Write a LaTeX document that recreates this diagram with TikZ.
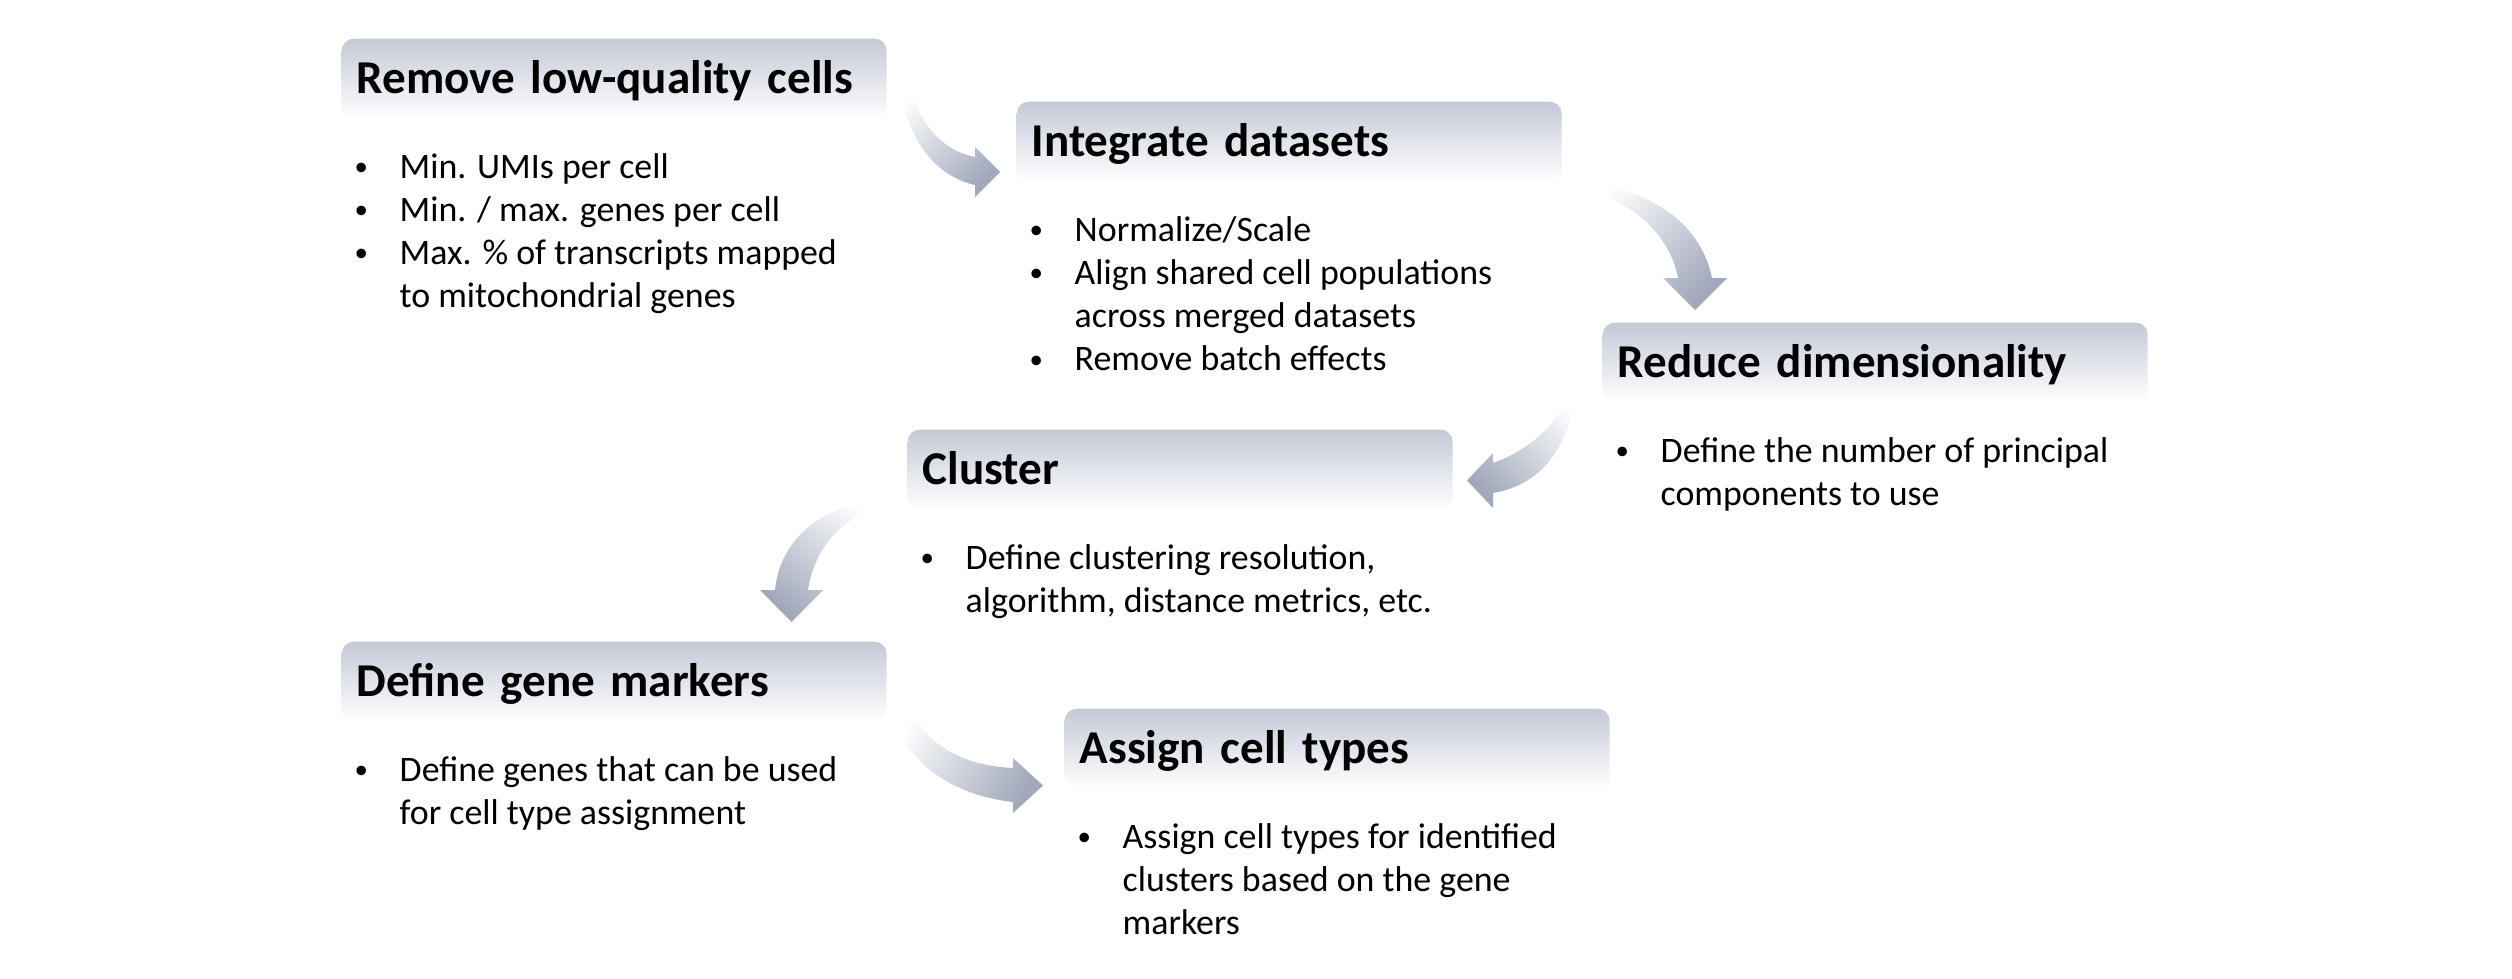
\documentclass[tikz,border=0pt]{standalone}
\usepackage{fontspec}
\setmainfont{Carlito}
\usepackage{tikz}
\usetikzlibrary{positioning}

\definecolor{hdrblue}{RGB}{196,201,214}
\definecolor{arrowgray}{RGB}{160,168,186}

% bullet list inside a step
\newcommand{\stepbullet}{\raisebox{0.15ex}{\scalebox{0.75}{\textbullet}}}
\newcommand{\steplist}[1]{\begin{tabular}[t]{@{}p{0.45cm}@{}l@{}}#1\end{tabular}}

\tikzset{
  hdr/.style={anchor=north west, rounded corners=0.12cm, top color=hdrblue, bottom color=white,
    minimum width=5.45cm, minimum height=0.80cm, inner xsep=0.15cm, inner ysep=0pt,
    text width=5.15cm, align=left, text height=0.35cm, text depth=0.05cm,
    font=\fontsize{13.4}{16}\selectfont\bfseries},
  body/.style={inner sep=0pt, font=\fontsize{10.2}{12.3}\selectfont},
  flowarrow/.style={top color=arrowgray, bottom color=white}
}

\begin{document}
\begin{tikzpicture}[line join=round]

\useasboundingbox (0,0) rectangle (25.12,-9.78);
\fill[white] (0,0) rectangle (25.12,-9.78);

% Step headers
\node[hdr] (qc) at (3.41,-0.38) {Remove low-quality cells};
\node[hdr] (integ) at (10.16,-1.01) {Integrate datasets};
\node[hdr] (dimred) at (16.02,-3.22) {Reduce dimensionality};
\node[hdr] (clust) at (9.07,-4.29) {Cluster};
\node[hdr] (markers) at (3.41,-6.41) {Define gene markers};
\node[hdr] (celltype) at (10.64,-7.08) {Assign cell types};

% Step details
\node[body, below right=1.40cm and 0.13cm of qc.north west, anchor=base west] (qcList) {\steplist{
  \stepbullet & Min. UMIs per cell\\
  \stepbullet & Min. / max. genes per cell\\
  \stepbullet & Max. \% of transcripts mapped\\
              & to mitochondrial genes\\}};
\node[body, below right=1.40cm and 0.13cm of integ.north west, anchor=base west] (integList) {\steplist{
  \stepbullet & Normalize/Scale\\
  \stepbullet & Align shared cell populations\\
              & across merged datasets\\
  \stepbullet & Remove batch effects\\}};
\node[body, below right=1.40cm and 0.13cm of dimred.north west, anchor=base west] (dimredList) {\steplist{
  \stepbullet & Define the number of principal\\
              & components to use\\}};
\node[body, below right=1.40cm and 0.13cm of clust.north west, anchor=base west] (clustList) {\steplist{
  \stepbullet & Define clustering resolution,\\
              & algorithm, distance metrics, etc.\\}};
\node[body, below right=1.40cm and 0.13cm of markers.north west, anchor=base west] (markersList) {\steplist{
  \stepbullet & Define genes that can be used\\
              & for cell type assignment\\}};
\node[body, below right=1.40cm and 0.13cm of celltype.north west, anchor=base west] (celltypeList) {\steplist{
  \stepbullet & Assign cell types for identified\\
              & clusters based on the gene\\
              & markers\\}};

% Curved arrows between steps
\shade[flowarrow, shading angle=-135] (9.06,-0.73) .. controls (9.15,-1.2) and (9.4,-1.5) .. (9.75,-1.57)
  -- (9.75,-1.47) -- (10.00,-1.72) -- (9.75,-1.97) -- (9.75,-1.85)
  .. controls (9.3,-1.75) and (9.02,-1.3) .. (9.00,-0.75) -- cycle;
\shade[flowarrow, shading angle=-135] (15.72,-1.83) .. controls (16.45,-1.85) and (17.0,-2.2) .. (17.12,-2.78)
  -- (17.27,-2.78) -- (16.95,-3.10) -- (16.63,-2.78) -- (16.78,-2.78)
  .. controls (16.7,-2.35) and (16.3,-1.95) .. (15.72,-1.89) -- cycle;
\shade[flowarrow, shading angle=132] (15.78,-3.82) .. controls (15.7,-4.5) and (15.4,-4.85) .. (14.93,-4.93)
  -- (14.93,-5.08) -- (14.67,-4.805) -- (14.93,-4.53) -- (14.93,-4.63)
  .. controls (15.3,-4.5) and (15.65,-4.2) .. (15.72,-3.82) -- cycle;
\shade[flowarrow, shading angle=142] (8.87,-4.97) .. controls (8.2,-5.05) and (7.8,-5.4) .. (7.75,-5.90)
  -- (7.60,-5.90) -- (7.915,-6.22) -- (8.23,-5.90) -- (8.08,-5.90)
  .. controls (8.15,-5.45) and (8.45,-5.15) .. (8.87,-5.04) -- cycle;
\shade[flowarrow, shading angle=-120] (9.05,-7.00) .. controls (9.25,-7.45) and (9.6,-7.65) .. (10.13,-7.68)
  -- (10.13,-7.58) -- (10.43,-7.855) -- (10.13,-8.13) -- (10.13,-8.02)
  .. controls (9.5,-7.95) and (9.0,-7.6) .. (8.90,-7.02) -- cycle;

\end{tikzpicture}
\end{document}
